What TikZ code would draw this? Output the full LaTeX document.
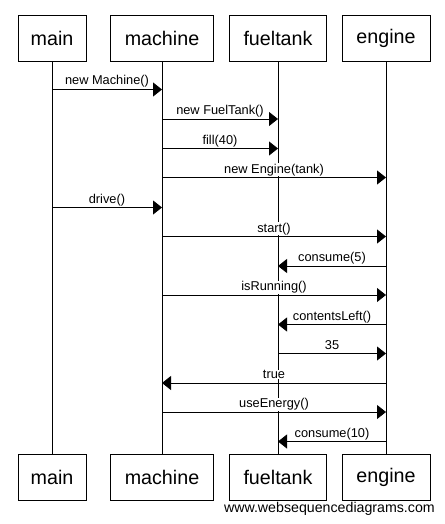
\documentclass[tikz,border=0pt]{standalone}
\usepackage{fontspec}
\setmainfont{Liberation Sans}
\usetikzlibrary{arrows.meta}

\tikzset{
  obj/.style={draw, line width=.8pt, minimum height=46pt, inner sep=0pt,
    font=\fontsize{19.7}{22}\selectfont},
  life/.style={line width=.8pt},
  msg/.style={line width=.8pt, -{Triangle[length=9pt,width=14pt]}},
  lbl/.style={midway, anchor=base, yshift=4.5pt, fill=white, inner sep=.5pt,
    font=\fontsize{12.8}{14}\selectfont},
}

\begin{document}
\begin{tikzpicture}[x=1pt,y=-1pt]
  \useasboundingbox (0,0) rectangle (444,524);
  % heads
  \node (main) [obj, minimum width=68pt] at (52,38) {main};
  \node (machine) [obj, minimum width=103pt] at (162,38) {machine};
  \node (fueltank) [obj, minimum width=97pt] at (278,38) {fueltank};
  \node (engine) [obj, minimum width=88pt] at (386,38) {engine};
  % feet
  \node (mainb) [obj, minimum width=68pt] at (52,477.5) {main};
  \node (machineb) [obj, minimum width=103pt] at (162,477.5) {machine};
  \node (fueltankb) [obj, minimum width=97pt] at (278,477.5) {fueltank};
  \node (engineb) [obj, minimum width=88pt] at (386,477.5) {engine};
  \draw[life] (main) -- (mainb);
  \draw[life] (machine) -- (machineb);
  \draw[life] (fueltank) -- (fueltankb);
  \draw[life] (engine) -- (engineb);

  % message rows
  \coordinate (m1) at (0,89.5);
  \coordinate (m2) at (0,119);
  \coordinate (m3) at (0,148.5);
  \coordinate (m4) at (0,177.5);
  \coordinate (m5) at (0,207.5);
  \coordinate (m6) at (0,236.5);
  \coordinate (m7) at (0,266);
  \coordinate (m8) at (0,295);
  \coordinate (m9) at (0,324.5);
  \coordinate (m10) at (0,353.5);
  \coordinate (m11) at (0,383);
  \coordinate (m12) at (0,412);
  \coordinate (m13) at (0,441.5);

  \draw[msg] (main |- m1) -- (machine |- m1) node[lbl] {new Machine()};
  \draw[msg] (machine |- m2) -- (fueltank |- m2) node[lbl] {new FuelTank()};
  \draw[msg] (machine |- m3) -- (fueltank |- m3) node[lbl] {fill(40)};
  \draw[msg] (machine |- m4) -- (engine |- m4) node[lbl] {new Engine(tank)};
  \draw[msg] (main |- m5) -- (machine |- m5) node[lbl] {drive()};
  \draw[msg] (machine |- m6) -- (engine |- m6) node[lbl] {start()};
  \draw[msg] (engine |- m7) -- (fueltank |- m7) node[lbl] {consume(5)};
  \draw[msg] (machine |- m8) -- (engine |- m8) node[lbl] {isRunning()};
  \draw[msg] (engine |- m9) -- (fueltank |- m9) node[lbl] {contentsLeft()};
  \draw[msg] (fueltank |- m10) -- (engine |- m10) node[lbl] {35};
  \draw[msg] (engine |- m11) -- (machine |- m11) node[lbl] {true};
  \draw[msg] (machine |- m12) -- (engine |- m12) node[lbl] {useEnergy()};
  \draw[msg] (engine |- m13) -- (fueltank |- m13) node[lbl] {consume(10)};

  \node (wsd) [anchor=base east, inner sep=0pt, font=\fontsize{14.2}{16}\selectfont]
    at (435,512) {www.websequencediagrams.com};
\end{tikzpicture}
\end{document}
